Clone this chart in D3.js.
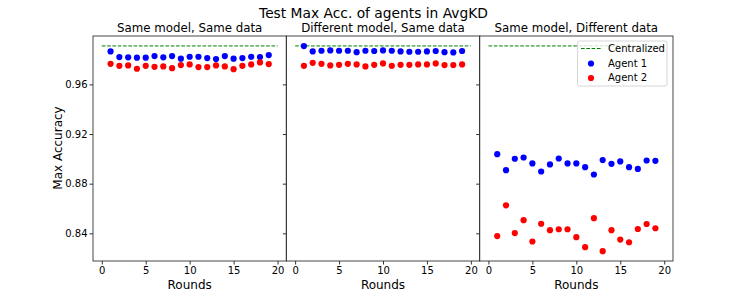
<!DOCTYPE html>
<html><head><meta charset="utf-8">
<script src="https://cdn.jsdelivr.net/npm/d3@7"></script>
<style>body{margin:0;background:#fff}svg{display:block;font-family:"DejaVu Sans",sans-serif}</style>
</head><body><div id="chart"></div>
<script>
const rounds = [1,2,3,4,5,6,7,8,9,10,11,12,13,14,15,16,17,18,19];
const centralizedAcc = 0.991;
const panelTitles = ["Same model, Same data","Different model, Same data","Same model, Different data"];
const agent1 = [
  [0.9866,0.9820,0.9818,0.9815,0.9815,0.9828,0.9818,0.9828,0.9807,0.9823,0.9823,0.9812,0.9804,0.9828,0.9807,0.9812,0.9823,0.9820,0.9836],
  [0.9909,0.9866,0.9871,0.9874,0.9871,0.9871,0.9860,0.9871,0.9869,0.9874,0.9871,0.9866,0.9863,0.9863,0.9866,0.9869,0.9860,0.9858,0.9869],
  [0.9038,0.8909,0.9001,0.9011,0.8963,0.8898,0.8955,0.9003,0.8963,0.8963,0.8933,0.8874,0.8990,0.8960,0.8979,0.8933,0.8919,0.8987,0.8984]
];
const agent2 = [
  [0.9766,0.9750,0.9753,0.9726,0.9750,0.9742,0.9745,0.9731,0.9756,0.9761,0.9740,0.9740,0.9753,0.9745,0.9723,0.9750,0.9761,0.9777,0.9764],
  [0.9750,0.9774,0.9766,0.9753,0.9758,0.9766,0.9761,0.9745,0.9758,0.9769,0.9750,0.9758,0.9758,0.9761,0.9761,0.9769,0.9756,0.9756,0.9761],
  [0.8378,0.8626,0.8402,0.8506,0.8334,0.8477,0.8425,0.8433,0.8433,0.8369,0.8288,0.8522,0.8256,0.8425,0.8350,0.8328,0.8435,0.8475,0.8441]
];
const xTicks = [0,5,10,15,20];
const yTicks = [0.84,0.88,0.92,0.96];
const legendLabels = ["Centralized","Agent 1","Agent 2"];

(function(){
const W=747,H=299;
const svg=d3.select("#chart").append("svg").attr("width",W).attr("height",H);
const left=93,plotTop=36,bottom=261,pw=193.33;
const y=d3.scaleLinear().domain([0.8177,0.999]).range([bottom,plotTop]);
const fmt=d3.format(".2f");

svg.append("text").attr("x",373.5).attr("y",18).attr("text-anchor","middle").attr("font-size",13.8).attr("fill","#000").text("Test Max Acc. of agents in AvgKD");

for(let p=0;p<3;p++){
  const x0=left+p*pw;
  const x=d3.scaleLinear().domain([-1,21]).range([x0,x0+pw]);
  const g=svg.append("g");
  g.append("text").attr("x",x0+pw/2).attr("y",32).attr("text-anchor","middle").attr("font-size",11.8).text(panelTitles[p]);
  g.append("line").attr("x1",x(0)).attr("x2",x(20)).attr("y1",y(centralizedAcc)).attr("y2",y(centralizedAcc))
    .attr("stroke","#008000").attr("stroke-width",1).attr("stroke-dasharray","3.7,1.6");
  g.selectAll("circle.a1").data(rounds).join("circle").attr("class","a1").attr("cx",d=>x(d)).attr("cy",(d,i)=>y(agent1[p][i])).attr("r",3.1).attr("fill","#0000ff");
  g.selectAll("circle.a2").data(rounds).join("circle").attr("class","a2").attr("cx",d=>x(d)).attr("cy",(d,i)=>y(agent2[p][i])).attr("r",3.1).attr("fill","#ff0000");
  const xa=g.append("g").attr("transform",`translate(0,${bottom})`).call(d3.axisBottom(x).tickValues(xTicks).tickSize(3.5).tickPadding(2));
  xa.select(".domain").remove();
  xa.selectAll("text").attr("font-size",10).attr("font-family","DejaVu Sans").attr("fill","#000");
  xa.selectAll("line").attr("stroke","#333");
  const ya=g.append("g").attr("transform",`translate(${x0},0)`).call(d3.axisLeft(y).tickValues(yTicks).tickFormat(fmt).tickSize(3.5).tickPadding(2));
  ya.select(".domain").remove();
  ya.selectAll("text").attr("font-size",10).attr("font-family","DejaVu Sans").attr("fill","#000");
  if(p>0) ya.selectAll("text").remove();
  ya.selectAll("line").attr("stroke","#333");
  g.append("rect").attr("x",x0).attr("y",plotTop).attr("width",pw).attr("height",bottom-plotTop).attr("fill","none").attr("stroke","#333").attr("stroke-width",0.9);
  g.append("text").attr("x",x0+pw/2).attr("y",289).attr("text-anchor","middle").attr("font-size",12).text("Rounds");
}
svg.append("text").attr("transform","translate(62,148) rotate(-90)").attr("text-anchor","middle").attr("font-size",12).text("Max Accuracy");

const lg=svg.append("g");
lg.append("rect").attr("x",577.5).attr("y",41).attr("width",89.5).attr("height",45).attr("rx",2).attr("fill","#fff").attr("fill-opacity",0.8).attr("stroke","#ccc").attr("stroke-width",0.8);
lg.append("line").attr("x1",581).attr("x2",601).attr("y1",48.5).attr("y2",48.5).attr("stroke","#008000").attr("stroke-width",1).attr("stroke-dasharray","3.7,1.6");
lg.append("circle").attr("cx",591).attr("cy",63.5).attr("r",3.1).attr("fill","#0000ff");
lg.append("circle").attr("cx",591).attr("cy",78).attr("r",3.1).attr("fill","#ff0000");
lg.selectAll("text.l").data(legendLabels).join("text").attr("class","l").attr("x",608).attr("y",(d,i)=>52+i*14.7).attr("font-size",10).text(d=>d);
})();
</script></body></html>
